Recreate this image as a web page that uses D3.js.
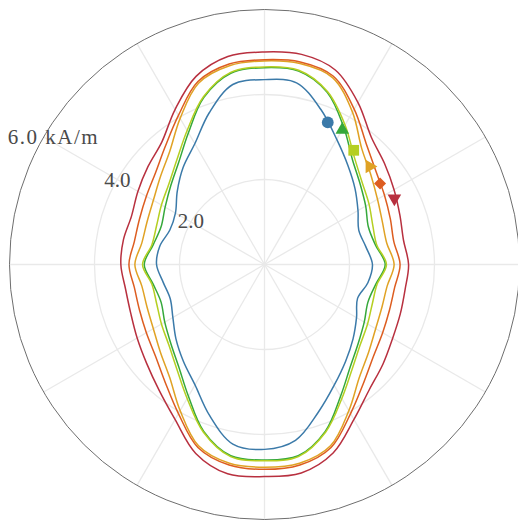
<!DOCTYPE html>
<html><head><meta charset="utf-8">
<script src="https://cdn.jsdelivr.net/npm/d3@7"></script>
<style>html,body{margin:0;padding:0;background:#fff;overflow:hidden;}</style>
</head><body>
<svg id="chart" width="518" height="521"></svg>
<script>
// angles in degrees, clockwise from top
const angles = d3.range(0, 360, 10);
const seriesNames = ["s1", "s2", "s3", "s4", "s5", "s6"];
const colors = ["#3b7aa9", "#35a83a", "#b5cf22", "#e0a224", "#dd5d20", "#b8303f"];

const s1 = [4.35,4.34,3.88,3.40,3.05,2.78,2.54,2.36,2.42,2.54,
            2.47,2.33,2.50,2.72,2.97,3.28,3.70,4.20,4.35,
            4.29,3.78,3.27,2.97,2.72,2.49,2.36,2.42,2.54,
            2.50,2.37,2.42,2.68,2.98,3.28,3.80,4.30];
const s2 = [4.63,4.62,4.31,3.73,3.22,2.94,2.75,2.60,2.65,2.84,
            2.66,2.59,2.71,2.88,3.14,3.58,4.18,4.57,4.60,
            4.57,4.18,3.58,3.14,2.88,2.71,2.59,2.66,2.83,
            2.66,2.59,2.70,2.88,3.14,3.58,4.18,4.57];
const s3 = [4.65,4.64,4.33,3.79,3.29,3.00,2.84,2.71,2.68,2.87,
            2.69,2.70,2.80,2.94,3.21,3.64,4.20,4.59,4.62,
            4.59,4.20,3.64,3.21,2.94,2.80,2.70,2.69,2.87,
            2.69,2.70,2.80,2.94,3.21,3.64,4.20,4.59];
const s4 = [4.79,4.80,4.68,4.14,3.56,3.27,3.07,2.95,2.92,3.05,
            2.93,2.94,3.02,3.20,3.47,3.97,4.54,4.75,4.77,
            4.75,4.54,3.97,3.47,3.20,3.02,2.94,2.93,3.05,
            2.93,2.94,3.02,3.20,3.47,3.97,4.54,4.75];
const s5 = [4.82,4.84,4.72,4.22,3.72,3.42,3.26,3.15,3.09,3.19,
            3.11,3.13,3.21,3.35,3.63,4.05,4.58,4.79,4.82,
            4.79,4.58,4.05,3.63,3.35,3.21,3.13,3.11,3.19,
            3.11,3.13,3.21,3.35,3.63,4.05,4.58,4.79];
const s6 = [5.00,5.02,4.87,4.40,3.91,3.69,3.52,3.39,3.32,3.39,
            3.36,3.40,3.48,3.64,3.84,4.21,4.72,4.98,4.99,
            5.00,4.73,4.21,3.86,3.62,3.46,3.35,3.32,3.38,
            3.37,3.33,3.44,3.58,3.76,4.21,4.71,4.97];
const seriesValues = [s1, s2, s3, s4, s5, s6];

const markerAngles = [24, 30, 38, 47, 55, 63];
const markerValues = [3.66, 3.66, 3.41, 3.38, 3.32, 3.43];
const markerShapes = ["circle", "triangleUp", "square", "triangleRight", "diamond", "triangleDown"];

const rTicks = [2, 4, 6];
const rTickLabels = ["2.0", "4.0", "6.0 kA/m"];
const spokeAngles = d3.range(0, 360, 30);

const W = 518, H = 521, cx = 264.5, cy = 264.5, R = 255;
const svg = d3.select("#chart");
const g = svg.append("g").attr("transform", `translate(${cx},${cy})`);
const r = d3.scaleLinear().domain([0, 6]).range([0, R]);
const rad = a => a * Math.PI / 180;

// grid circles
g.selectAll("circle.grid").data(rTicks.slice(0, -1)).join("circle")
  .attr("r", d => r(d)).attr("fill", "none")
  .attr("stroke", "#e9e9e9").attr("stroke-width", 1.3);
// spokes
g.selectAll("line.spoke").data(spokeAngles).join("line")
  .attr("x1", 0).attr("y1", 0)
  .attr("x2", d => r(6) * Math.sin(rad(d)))
  .attr("y2", d => -r(6) * Math.cos(rad(d)))
  .attr("stroke", "#e9e9e9").attr("stroke-width", 1.3);
// outer circle
g.append("circle").attr("r", r(6)).attr("fill", "none")
  .attr("stroke", "#6e6e6e").attr("stroke-width", 1);

// curves
const line = d3.lineRadial()
  .angle(d => rad(d[0]))
  .radius(d => r(d[1]))
  .curve(d3.curveCatmullRomClosed.alpha(0.5));
seriesValues.forEach((vals, i) => {
  g.append("path")
    .datum(angles.map((a, j) => [a, vals[j]]))
    .attr("d", line)
    .attr("fill", "none")
    .attr("stroke", colors[i])
    .attr("stroke-width", 1.5);
});

// markers
const symFor = {
  circle: [d3.symbolCircle, 110, 0],
  triangleUp: [d3.symbolTriangle, 80, 0],
  square: [d3.symbolSquare, 115, 0],
  triangleRight: [d3.symbolTriangle, 80, 90],
  diamond: [d3.symbolSquare, 72, 45],
  triangleDown: [d3.symbolTriangle, 80, 180]
};
markerShapes.forEach((s, i) => {
  const [type, size, rot] = symFor[s];
  const a = rad(markerAngles[i]);
  const x = r(markerValues[i]) * Math.sin(a);
  const y = -r(markerValues[i]) * Math.cos(a);
  g.append("path")
    .attr("d", d3.symbol().type(type).size(size)())
    .attr("transform", `translate(${x},${y}) rotate(${rot})`)
    .attr("fill", colors[i]);
});

// radial tick labels along 300 degrees
const labelAngle = rad(300);
g.selectAll("text.tick").data(rTicks).join("text")
  .attr("x", (d, i) => r(d) * Math.sin(labelAngle) + (i === rTicks.length - 1 ? 9 : 0))
  .attr("y", (d, i) => -r(d) * Math.cos(labelAngle) + (i === 0 ? -1.5 : 0))
  .attr("text-anchor", "middle")
  .attr("dominant-baseline", "central")
  .attr("font-family", "'Liberation Serif', 'DejaVu Serif', serif")
  .attr("font-size", 21)
  .attr("fill", "#4a4a4a")
  .each(function(d, i) {
    const t = d3.select(this).text(rTickLabels[i]);
    if (i === rTicks.length - 1) t.attr("textLength", 90).attr("lengthAdjust", "spacing");
  });
</script>
</body></html>
